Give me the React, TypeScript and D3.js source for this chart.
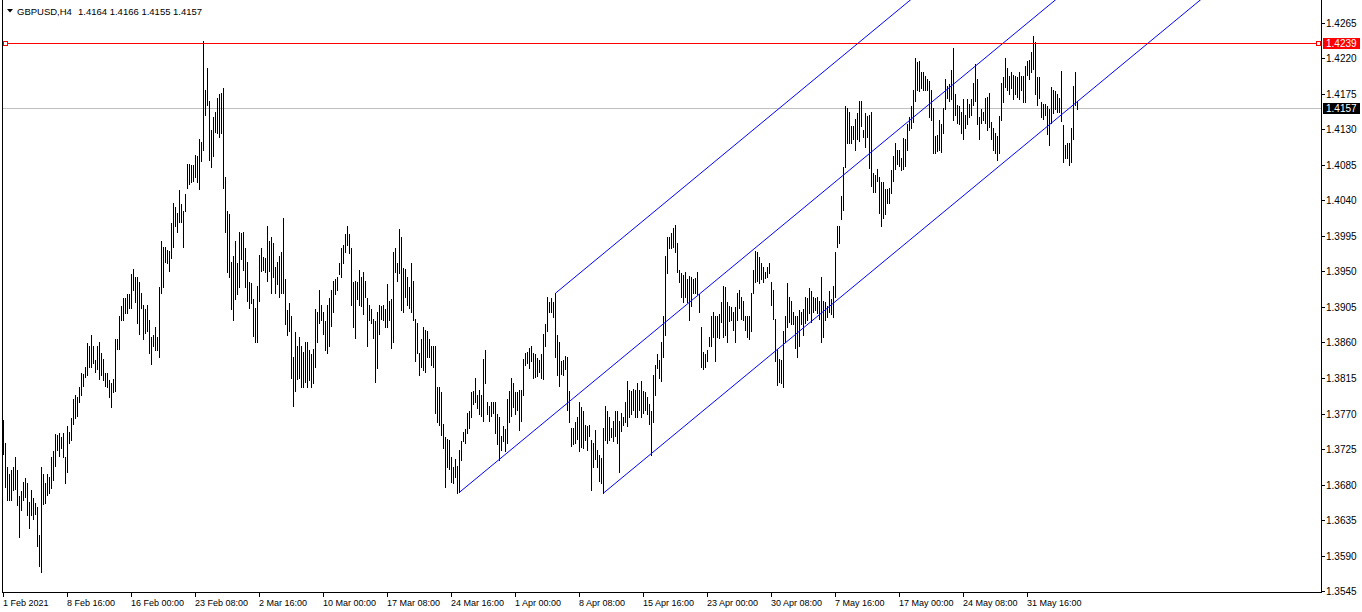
import { FC, useMemo } from "react";
import * as d3 from "d3";

const WIDTH = 1362;
const HEIGHT = 612;
// chart area edges (left frame, right price scale, bottom time scale)
const PLOT = { left: 2, right: 1321, top: 0, bottom: 592 };
const FONT = "'Liberation Sans', Arial, sans-serif";

const SYMBOL = "GBPUSD,H4";
const LAST_BAR = [1.4164, 1.4166, 1.4155, 1.4157]; // O H L C
const HLINE_PRICE = 1.4239;
const BID_PRICE = 1.4157;

// H4 bar highs, one per bar
const HIGH = [
  1.3762, 1.3733, 1.3702, 1.3693, 1.3699, 1.3702, 1.3715, 1.3698, 1.3665, 1.3672,
  1.3683, 1.3688, 1.3682, 1.3658, 1.3673, 1.3663, 1.3657, 1.3652, 1.3616, 1.3702,
  1.3693, 1.3682, 1.3693, 1.369, 1.3715, 1.3723, 1.3744, 1.3743, 1.3745, 1.374,
  1.3746, 1.3715, 1.3754, 1.3747, 1.3764, 1.3788, 1.3793, 1.3791, 1.3803, 1.3821,
  1.382, 1.3829, 1.3859, 1.3855, 1.3869, 1.3856, 1.3838, 1.3855, 1.3861, 1.3847,
  1.3839, 1.3821, 1.3821, 1.3813, 1.3809, 1.3814, 1.3865, 1.3865, 1.3893, 1.3906,
  1.3916, 1.3916, 1.3921, 1.3921, 1.3947, 1.3953, 1.3943, 1.3943, 1.3936, 1.3923,
  1.3908, 1.3902, 1.3907, 1.3889, 1.3867, 1.3869, 1.3879, 1.3867, 1.393, 1.3988,
  1.3981, 1.3981, 1.3977, 1.3976, 1.4011, 1.4037, 1.4031, 1.4024, 1.4053, 1.4035,
  1.4027, 1.4048, 1.4086, 1.4086, 1.4084, 1.4084, 1.4097, 1.4096, 1.4117, 1.4114,
  1.4241, 1.418, 1.4208, 1.4165, 1.4129, 1.4146, 1.4152, 1.417, 1.4175, 1.4176,
  1.4182, 1.4069, 1.4027, 1.4023, 1.3962, 1.397, 1.3989, 1.396, 1.4, 1.3998,
  1.4, 1.398, 1.3962, 1.3936, 1.3935, 1.3915, 1.3904, 1.3931, 1.3971, 1.3979,
  1.3968, 1.3967, 1.4008, 1.3989, 1.3993, 1.3986, 1.3956, 1.3962, 1.397, 1.3974,
  1.4018, 1.394, 1.3901, 1.391, 1.3893, 1.3841, 1.3873, 1.3856, 1.3867, 1.3855,
  1.3848, 1.3861, 1.386, 1.3851, 1.3845, 1.3852, 1.3902, 1.3899, 1.3927, 1.3907,
  1.3898, 1.3887, 1.3907, 1.3916, 1.3926, 1.3938, 1.394, 1.3943, 1.3961, 1.398,
  1.3983, 1.3997, 1.4007, 1.3997, 1.3979, 1.3936, 1.3938, 1.3936, 1.3952, 1.3943,
  1.3949, 1.3938, 1.3916, 1.3908, 1.3902, 1.389, 1.3887, 1.3898, 1.3908, 1.3906,
  1.3907, 1.3902, 1.3934, 1.3913, 1.3915, 1.3974, 1.398, 1.3961, 1.4003, 1.3994,
  1.3954, 1.3953, 1.3943, 1.393, 1.3961, 1.3938, 1.389, 1.3884, 1.3847, 1.3865,
  1.3879, 1.3876, 1.3874, 1.3865, 1.3855, 1.3856, 1.3855, 1.3804, 1.3804, 1.3797,
  1.3757, 1.374, 1.3738, 1.3736, 1.3715, 1.3702, 1.3713, 1.3703, 1.3724, 1.3735,
  1.3747, 1.375, 1.3771, 1.3773, 1.3797, 1.3799, 1.3815, 1.3794, 1.38, 1.3793,
  1.3839, 1.385, 1.3785, 1.3779, 1.3785, 1.3784, 1.3785, 1.3769, 1.3765, 1.3742,
  1.3754, 1.375, 1.3788, 1.3798, 1.3815, 1.3809, 1.3797, 1.3797, 1.38, 1.38,
  1.3839, 1.3847, 1.3848, 1.3853, 1.3855, 1.3847, 1.3845, 1.384, 1.3838, 1.3846,
  1.3871, 1.3883, 1.3917, 1.3911, 1.3916, 1.3911, 1.3923, 1.3869, 1.3861, 1.3837,
  1.3838, 1.3843, 1.3842, 1.3798, 1.3752, 1.3752, 1.3759, 1.3766, 1.3785, 1.3778,
  1.3773, 1.3755, 1.3754, 1.3755, 1.3737, 1.3733, 1.3749, 1.3724, 1.3718, 1.3714,
  1.3752, 1.378, 1.3773, 1.3765, 1.3752, 1.376, 1.3773, 1.3773, 1.376, 1.3771,
  1.3766, 1.3784, 1.3811, 1.38, 1.3798, 1.3801, 1.38, 1.3809, 1.38, 1.3811,
  1.3798, 1.3797, 1.3791, 1.3782, 1.3773, 1.3819, 1.3832, 1.3845, 1.3838, 1.3861,
  1.3893, 1.397, 1.3994, 1.3994, 1.3999, 1.4005, 1.4009, 1.3986, 1.3952, 1.3948,
  1.3946, 1.3949, 1.394, 1.3944, 1.3943, 1.394, 1.3941, 1.3949, 1.3921, 1.388,
  1.3848, 1.3846, 1.385, 1.3867, 1.3893, 1.3898, 1.3894, 1.3893, 1.3896, 1.3911,
  1.3932, 1.393, 1.3911, 1.3906, 1.3905, 1.3898, 1.3905, 1.3923, 1.3926, 1.3917,
  1.3912, 1.3893, 1.3894, 1.3894, 1.3923, 1.3952, 1.3976, 1.3974, 1.3968, 1.3961,
  1.3956, 1.3949, 1.3956, 1.3961, 1.3936, 1.3926, 1.389, 1.3852, 1.3839, 1.3838,
  1.3875, 1.3893, 1.3935, 1.3917, 1.3912, 1.3899, 1.3893, 1.3894, 1.3901, 1.3899,
  1.3902, 1.3917, 1.3916, 1.3929, 1.3925, 1.3917, 1.3916, 1.3917, 1.3913, 1.3943,
  1.3912, 1.3911, 1.3906, 1.3925, 1.3915, 1.3932, 1.3974, 1.4008, 1.4007, 1.4045,
  1.4082, 1.4159, 1.4157, 1.4152, 1.4134, 1.4134, 1.4143, 1.4151, 1.4166, 1.4166,
  1.4129, 1.4151, 1.4147, 1.4148, 1.4152, 1.4075, 1.4072, 1.4079, 1.407, 1.4063,
  1.4063, 1.4054, 1.4054, 1.4055, 1.4078, 1.4096, 1.4113, 1.4104, 1.4104, 1.4094,
  1.4119, 1.4117, 1.4136, 1.4146, 1.4159, 1.4179, 1.422, 1.4215, 1.4216, 1.4202,
  1.4202, 1.4197, 1.4193, 1.4191, 1.418, 1.4157, 1.4121, 1.4123, 1.4141, 1.4137,
  1.4157, 1.4193, 1.4185, 1.4187, 1.4205, 1.4233, 1.4174, 1.416, 1.4159, 1.4152,
  1.4168, 1.4148, 1.4168, 1.4162, 1.4168, 1.4189, 1.4212, 1.4194, 1.4145, 1.4155,
  1.4152, 1.417, 1.4171, 1.4176, 1.4139, 1.4132, 1.4125, 1.4121, 1.4147, 1.4189,
  1.4196, 1.422, 1.4208, 1.4197, 1.4202, 1.4199, 1.4197, 1.4196, 1.4202, 1.4197,
  1.4197, 1.421, 1.4216, 1.4217, 1.4228, 1.4248, 1.424, 1.4196, 1.4196, 1.4164,
  1.4162, 1.4162, 1.4159, 1.4155, 1.4183, 1.418, 1.4178, 1.4174, 1.417, 1.4203,
  1.4135, 1.411, 1.4112, 1.4112, 1.4132, 1.4185, 1.4202, 1.4166,
];

// H4 bar lows, same order
const LOW = [
  1.3719, 1.3677, 1.366, 1.366, 1.3661, 1.3673, 1.3675, 1.3654, 1.3614, 1.3648,
  1.3661, 1.3664, 1.3641, 1.3625, 1.3641, 1.3636, 1.3643, 1.3602, 1.3577, 1.3569,
  1.3656, 1.3657, 1.3667, 1.3669, 1.3676, 1.3686, 1.3703, 1.3724, 1.3716, 1.3727,
  1.3715, 1.3682, 1.3696, 1.3733, 1.3737, 1.3757, 1.3764, 1.3767, 1.3784, 1.3793,
  1.3805, 1.3816, 1.3819, 1.3829, 1.3829, 1.3834, 1.3823, 1.3827, 1.3814, 1.3819,
  1.3813, 1.3805, 1.3804, 1.3791, 1.3778, 1.3797, 1.3798, 1.3852, 1.3852, 1.3888,
  1.3888, 1.3897, 1.3897, 1.3903, 1.3903, 1.3926, 1.3911, 1.3884, 1.3871, 1.3903,
  1.3865, 1.3872, 1.3874, 1.3847, 1.3833, 1.3855, 1.3851, 1.385, 1.3842, 1.3923,
  1.393, 1.3962, 1.396, 1.3951, 1.3967, 1.3981, 1.4008, 1.4, 1.4012, 1.4013,
  1.3981, 1.4026, 1.4056, 1.406, 1.4063, 1.4064, 1.407, 1.4063, 1.4054, 1.409,
  1.4104, 1.4148, 1.4161, 1.4091, 1.4082, 1.4096, 1.4127, 1.4125, 1.412, 1.4125,
  1.4055, 1.4, 1.3949, 1.3943, 1.3902, 1.3889, 1.3915, 1.3921, 1.393, 1.3965,
  1.3952, 1.393, 1.3912, 1.3904, 1.391, 1.3868, 1.3861, 1.3861, 1.3912, 1.3951,
  1.3952, 1.3949, 1.3938, 1.3951, 1.3923, 1.3943, 1.3923, 1.3934, 1.3918, 1.3923,
  1.3923, 1.3883, 1.3869, 1.3874, 1.3815, 1.378, 1.3798, 1.3814, 1.3815, 1.3803,
  1.3803, 1.381, 1.3804, 1.3813, 1.3804, 1.3809, 1.3829, 1.3861, 1.3884, 1.3888,
  1.3871, 1.385, 1.3847, 1.3856, 1.3881, 1.3898, 1.3921, 1.3927, 1.3947, 1.3943,
  1.396, 1.3975, 1.3983, 1.3973, 1.3908, 1.388, 1.3866, 1.3915, 1.3908, 1.3906,
  1.3896, 1.3917, 1.3856, 1.3889, 1.3884, 1.3866, 1.381, 1.3828, 1.3871, 1.389,
  1.3888, 1.388, 1.3879, 1.3889, 1.3853, 1.386, 1.3949, 1.3938, 1.3948, 1.3901,
  1.3898, 1.3917, 1.3907, 1.3903, 1.3898, 1.3889, 1.3836, 1.3847, 1.3819, 1.3829,
  1.3825, 1.3823, 1.3842, 1.3842, 1.3832, 1.3829, 1.3771, 1.3759, 1.3755, 1.3743,
  1.3727, 1.3677, 1.3702, 1.37, 1.3683, 1.3682, 1.369, 1.3669, 1.3671, 1.3711,
  1.3735, 1.3733, 1.3746, 1.3752, 1.3765, 1.3782, 1.3785, 1.3777, 1.3769, 1.3767,
  1.376, 1.3809, 1.3769, 1.376, 1.3767, 1.3771, 1.3746, 1.3732, 1.3711, 1.3724,
  1.3735, 1.3722, 1.3733, 1.3759, 1.3767, 1.3778, 1.3769, 1.3775, 1.3749, 1.376,
  1.3794, 1.3832, 1.3834, 1.3828, 1.3836, 1.3815, 1.3816, 1.3818, 1.3823, 1.3815,
  1.3814, 1.3855, 1.3875, 1.3899, 1.3898, 1.3892, 1.3842, 1.3819, 1.3805, 1.382,
  1.3819, 1.3827, 1.3775, 1.3759, 1.3729, 1.3732, 1.3733, 1.3738, 1.3723, 1.3728,
  1.3726, 1.3737, 1.3724, 1.3741, 1.3673, 1.3702, 1.3712, 1.3702, 1.3685, 1.3682,
  1.367, 1.3737, 1.3733, 1.3737, 1.374, 1.3735, 1.3742, 1.3733, 1.3696, 1.3748,
  1.3755, 1.3759, 1.3754, 1.3765, 1.377, 1.3774, 1.3766, 1.3765, 1.3775, 1.3765,
  1.3771, 1.3775, 1.377, 1.3757, 1.3718, 1.3759, 1.3794, 1.3828, 1.3815, 1.3811,
  1.3842, 1.3869, 1.3948, 1.3979, 1.398, 1.3981, 1.3975, 1.3949, 1.3936, 1.3918,
  1.3911, 1.3918, 1.3911, 1.3888, 1.3906, 1.3923, 1.3923, 1.3921, 1.3898, 1.3829,
  1.3827, 1.3829, 1.3837, 1.3855, 1.3855, 1.3867, 1.3837, 1.3867, 1.3866, 1.3886,
  1.3867, 1.387, 1.3861, 1.3887, 1.3889, 1.3876, 1.3861, 1.3889, 1.3903, 1.389,
  1.3889, 1.3876, 1.3867, 1.3864, 1.3874, 1.3923, 1.3936, 1.3938, 1.3935, 1.394,
  1.3936, 1.3941, 1.3943, 1.3948, 1.3907, 1.389, 1.3836, 1.3806, 1.381, 1.3809,
  1.3803, 1.386, 1.388, 1.3886, 1.3883, 1.3883, 1.3853, 1.3842, 1.3855, 1.3883,
  1.3869, 1.3885, 1.3888, 1.3897, 1.3886, 1.3898, 1.3901, 1.3897, 1.389, 1.386,
  1.3867, 1.3889, 1.3892, 1.3898, 1.3896, 1.3892, 1.3918, 1.3981, 1.3986, 1.4016,
  1.4028, 1.4082, 1.4113, 1.4113, 1.4113, 1.4117, 1.4103, 1.4118, 1.4115, 1.4134,
  1.412, 1.4108, 1.412, 1.4081, 1.4058, 1.405, 1.405, 1.4064, 1.4024, 1.4007,
  1.4017, 1.4023, 1.4037, 1.4036, 1.4049, 1.4065, 1.4079, 1.4086, 1.4083, 1.4078,
  1.4079, 1.4083, 1.4104, 1.4129, 1.4131, 1.4139, 1.4165, 1.418, 1.4178, 1.4182,
  1.4179, 1.4179, 1.418, 1.4146, 1.4141, 1.41, 1.41, 1.4102, 1.4103, 1.4101,
  1.4125, 1.4155, 1.417, 1.4166, 1.4168, 1.4142, 1.4148, 1.4138, 1.4136, 1.4125,
  1.4117, 1.4132, 1.4136, 1.4146, 1.4148, 1.4161, 1.4165, 1.4136, 1.4117, 1.4138,
  1.4142, 1.4138, 1.4129, 1.4133, 1.4117, 1.4104, 1.41, 1.4091, 1.41, 1.4142,
  1.4164, 1.4183, 1.418, 1.4174, 1.4182, 1.4168, 1.4174, 1.4171, 1.4168, 1.418,
  1.4164, 1.4164, 1.4199, 1.4193, 1.4202, 1.4206, 1.4174, 1.4161, 1.417, 1.4146,
  1.4143, 1.4148, 1.4124, 1.411, 1.4138, 1.4151, 1.4155, 1.4152, 1.4152, 1.414,
  1.4089, 1.4093, 1.4093, 1.4085, 1.4089, 1.4117, 1.4161, 1.4155,
];

// time scale labels, one every 32 bars starting at bar 0
const TIME_LABELS = [
  "1 Feb 2021", "8 Feb 16:00", "16 Feb 00:00", "23 Feb 08:00", "2 Mar 16:00",
  "10 Mar 00:00", "17 Mar 08:00", "24 Mar 16:00", "1 Apr 00:00", "8 Apr 08:00",
  "15 Apr 16:00", "23 Apr 00:00", "30 Apr 08:00", "7 May 16:00", "17 May 00:00",
  "24 May 08:00", "31 May 16:00",
];
const LABEL_STEP = 32;

const PRICE_TICKS = [
  1.3545, 1.359, 1.3635, 1.368, 1.3725, 1.377, 1.3815, 1.386, 1.3905,
  1.395, 1.3995, 1.404, 1.4085, 1.413, 1.4175, 1.422, 1.4265,
];

// Andrews' pitchfork anchors: [bar index, price]
const FORK_POINTS: [number, number][] = [
  [228, 1.3671],
  [276, 1.3923],
  [300, 1.367],
];

const App: FC = () => {
  // 2 px per bar
  const xScale = useMemo(
    () => d3.scaleLinear().domain([0, 659]).range([3, 1321]),
    []
  );
  const yScale = useMemo(
    () => d3.scaleLinear().domain([1.3545, 1.4265]).range([591.8, 23]),
    []
  );
  const row = (p: number) => Math.floor(yScale(p));

  const bars = HIGH.map((h, i) => {
    const top = row(h);
    const bottom = row(LOW[i]) + 1;
    return (
      <rect
        key={i}
        x={Math.round(xScale(i))}
        y={top}
        width={1}
        height={Math.max(1, bottom - top)}
        fill="#000000"
      />
    );
  });

  // pitchfork: median from point 1 through the middle of points 2 and 3
  const [p1, p2, p3] = FORK_POINTS;
  const mid: [number, number] = [(p2[0] + p3[0]) / 2, (p2[1] + p3[1]) / 2];
  const slope = (mid[1] - p1[1]) / (mid[0] - p1[0]);
  const endBar = 800;
  const line = d3
    .line<[number, number]>()
    .x((d) => xScale(d[0]) + 0.5)
    .y((d) => yScale(d[1]));
  const forkLines = [p1, p2, p3].map((p, i) => (
    <path
      key={i}
      d={line([p, [endBar, p[1] + slope * (endBar - p[0])]]) || ""}
      stroke="#0000ff"
      strokeWidth={1}
      fill="none"
    />
  ));

  const hY = row(HLINE_PRICE) + 0.5;
  const bidY = row(BID_PRICE) + 0.5;

  return (
    <div style={{ position: "fixed", left: 0, top: 0 }}>
      <svg
        width={WIDTH}
        height={HEIGHT}
        style={{ display: "block", background: "#ffffff" }}
        fontFamily={FONT}
      >
        <defs>
          <clipPath id="plot-clip">
            <rect
              x={PLOT.left + 1}
              y={PLOT.top}
              width={PLOT.right - PLOT.left - 1}
              height={PLOT.bottom - PLOT.top}
            />
          </clipPath>
        </defs>
        <rect x={0} y={0} width={WIDTH} height={HEIGHT} fill="#ffffff" />

        {/* bid line */}
        <line
          x1={PLOT.left}
          x2={PLOT.right}
          y1={bidY}
          y2={bidY}
          stroke="#c0c0c0"
          shapeRendering="crispEdges"
        />

        <g shapeRendering="crispEdges">{bars}</g>

        <g clipPath="url(#plot-clip)">{forkLines}</g>

        {/* horizontal line object */}
        <line
          x1={PLOT.left}
          x2={PLOT.right}
          y1={hY}
          y2={hY}
          stroke="#ff0000"
          shapeRendering="crispEdges"
        />
        <rect x={3.5} y={hY - 2} width={4} height={4} fill="#ffffff" stroke="#ff0000" shapeRendering="crispEdges" />
        <rect x={1316.5} y={hY - 2} width={4} height={4} fill="#ffffff" stroke="#ff0000" shapeRendering="crispEdges" />

        {/* frame */}
        <g stroke="#000000" shapeRendering="crispEdges">
          <line x1={PLOT.left + 0.5} x2={PLOT.left + 0.5} y1={0} y2={PLOT.bottom + 1} />
          <line x1={PLOT.right + 0.5} x2={PLOT.right + 0.5} y1={0} y2={PLOT.bottom + 1} />
          <line x1={PLOT.left} x2={PLOT.right + 1} y1={PLOT.bottom + 0.5} y2={PLOT.bottom + 0.5} />
        </g>

        {/* price scale */}
        {PRICE_TICKS.map((v) => {
          const y = row(v) + 0.5;
          return (
            <g key={v}>
              <line x1={PLOT.right + 1} x2={PLOT.right + 4} y1={y} y2={y} stroke="#000000" shapeRendering="crispEdges" />
              <text x={1326} y={y + 3.5} fontSize={10} fill="#000000">
                {v.toFixed(4)}
              </text>
            </g>
          );
        })}
        <rect x={1323} y={hY - 5.5} width={37} height={11} fill="#ff0000" />
        <text x={1326} y={hY + 3.5} fontSize={10} fill="#ffffff">
          {HLINE_PRICE.toFixed(4)}
        </text>
        <rect x={1323} y={bidY - 5.5} width={37} height={11} fill="#000000" />
        <text x={1326} y={bidY + 3.5} fontSize={10} fill="#ffffff">
          {BID_PRICE.toFixed(4)}
        </text>

        {/* time scale */}
        {TIME_LABELS.map((label, k) => {
          const x = Math.round(xScale(k * LABEL_STEP)) + 0.5;
          return (
            <g key={label}>
              <line x1={x} x2={x} y1={PLOT.bottom + 1} y2={PLOT.bottom + 5} stroke="#000000" shapeRendering="crispEdges" />
              <text x={x - 0.5} y={606} fontSize={9} fill="#000000">
                {label}
              </text>
            </g>
          );
        })}

        {/* header */}
        <path d="M7,9 L13,9 L10,12.5 Z" fill="#000000" />
        <text x={17} y={14.5} fontSize={9.5} fill="#000000">
          {SYMBOL}
        </text>
        <text x={78} y={14.5} fontSize={9.5} fill="#000000">
          {LAST_BAR.map((v) => v.toFixed(4)).join(" ")}
        </text>
      </svg>
    </div>
  );
};

export default App;
